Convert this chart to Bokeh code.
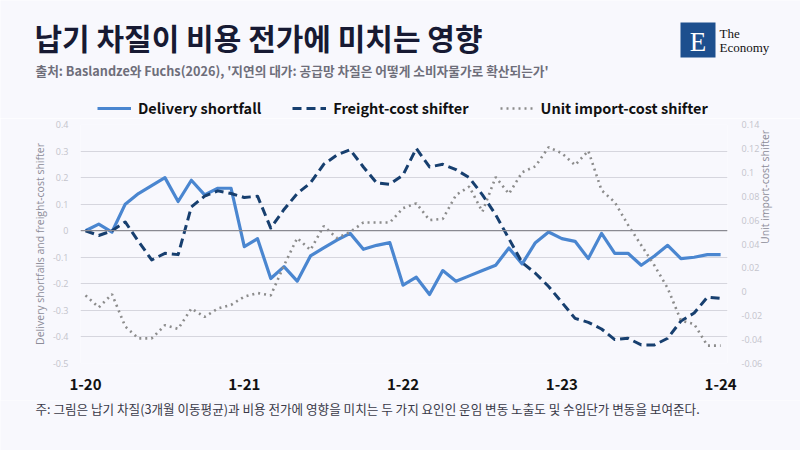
from bokeh.plotting import figure
from bokeh.layouts import column
from bokeh.models import (Range1d, LinearAxis, FixedTicker, Label, Span,
                          Legend, LegendItem, BoxAnnotation)
from bokeh.embed import file_html
from bokeh.resources import INLINE
from math import pi

# monthly values, Jan 2020 .. Jan 2024
delivery = [0.0, 0.025, -0.005, 0.10, 0.14, 0.17, 0.20, 0.11, 0.19, 0.135,
            0.16, 0.16, -0.06, -0.03, -0.18, -0.135, -0.19, -0.095, -0.065, -0.035,
            -0.01, -0.07, -0.055, -0.045, -0.205, -0.175, -0.24, -0.15, -0.19, -0.17,
            -0.15, -0.13, -0.065, -0.125, -0.045, -0.005, -0.03, -0.04, -0.105, -0.01,
            -0.085, -0.085, -0.13, -0.095, -0.055, -0.105, -0.10, -0.09, -0.09]
freight = [0.0, -0.018, 0.0, 0.033, -0.04, -0.11, -0.085, -0.09, 0.09, 0.13,
           0.15, 0.14, 0.125, 0.13, 0.01, 0.08, 0.14, 0.18, 0.25, 0.285,
           0.305, 0.24, 0.18, 0.175, 0.21, 0.31, 0.24, 0.25, 0.23, 0.20,
           0.135, 0.06, -0.03, -0.12, -0.16, -0.21, -0.27, -0.33, -0.345, -0.37,
           -0.41, -0.405, -0.43, -0.43, -0.405, -0.34, -0.31, -0.25, -0.255]
unit_import = [-0.003, -0.013, -0.002, -0.029, -0.039, -0.039, -0.028, -0.031, -0.014, -0.021,
               -0.014, -0.011, -0.004, -0.001, -0.003, 0.022, 0.045, 0.035, 0.055, 0.045,
               0.05, 0.058, 0.058, 0.058, 0.07, 0.074, 0.06, 0.061, 0.081, 0.088,
               0.067, 0.096, 0.082, 0.10, 0.105, 0.121, 0.116, 0.106, 0.118, 0.085,
               0.075, 0.056, 0.039, 0.022, 0.003, -0.024, -0.027, -0.045, -0.045]
months = list(range(len(delivery)))

x_ticks = [0, 12, 24, 36, 48]
x_labels = ["1-20", "1-21", "1-22", "1-23", "1-24"]
left_ticks = [-0.5, -0.4, -0.3, -0.2, -0.1, 0, 0.1, 0.2, 0.3, 0.4]
left_labels = ["-0.5", "-0.4", "-0.3", "-0.2", "-0.1", "0", "0.1", "0.2", "0.3", "0.4"]
right_ticks = [-0.06, -0.04, -0.02, 0, 0.02, 0.04, 0.06, 0.08, 0.1, 0.12, 0.14]
right_labels = ["-0.06", "-0.04", "-0.02", "0", "0.02", "0.04", "0.06", "0.08", "0.1", "0.12", "0.14"]

BG = "#F8F8FD"
KR = "Noto Sans CJK KR"
DEL_COLOR, FR_COLOR, UI_COLOR = "#4A86D0", "#173F6F", "#8C8C8C"


def blank(height):
    # ranges far from the data: series drawn here only feed the legend
    f = figure(width=800, height=height, output_backend="svg", toolbar_location=None,
               x_range=Range1d(100, 101), y_range=Range1d(100, 101),
               x_axis_location=None, y_axis_location=None, min_border=0,
               frame_align=False)
    f.background_fill_color = BG
    f.border_fill_color = BG
    f.outline_line_color = None
    f.grid.grid_line_color = None
    return f


def add_text(f, x, y, text, size, color, style="normal", font=KR):
    f.add_layout(Label(x=x, y=y, x_units="screen", y_units="screen", text=text,
                       text_font=font, text_font_size=size, text_color=color,
                       text_font_style=style, text_baseline="middle"))


# header: title, source, logo, legend
head = blank(118)
add_text(head, 34, 82, "납기 차질이 비용 전가에 미치는 영향", "30px", "#171A33", "bold")
add_text(head, 35, 48, "출처: Baslandze와 Fuchs(2026), '지연의 대가: 공급망 차질은 어떻게 소비자물가로 확산되는가'",
         "12.7px", "#6E6E7A", "bold")
head.add_layout(BoxAnnotation(left=680, right=715, top=96, bottom=61,
                              left_units="screen", right_units="screen",
                              top_units="screen", bottom_units="screen",
                              fill_color="#1D4F8E", fill_alpha=1, line_color=None))
head.add_layout(Label(x=697.5, y=77, x_units="screen", y_units="screen", text="E",
                      text_font="Liberation Serif", text_font_size="27px", text_color="white",
                      text_align="center", text_baseline="middle"))
add_text(head, 719, 85, "The", "13px", "#111111", font="Liberation Serif")
add_text(head, 719, 71, "Economy", "13px", "#111111", font="Liberation Serif")

h_del = head.line(months, delivery, line_color=DEL_COLOR, line_width=3.2)
h_fr = head.line(months, freight, line_color=FR_COLOR, line_width=3, line_dash="9 5")
h_ui = head.line(months, unit_import, line_color=UI_COLOR, line_width=2.6, line_dash="2 4")
legend = Legend(items=[LegendItem(label="Delivery shortfall", renderers=[h_del]),
                       LegendItem(label="Freight-cost shifter", renderers=[h_fr]),
                       LegendItem(label="Unit import-cost shifter", renderers=[h_ui])],
                orientation="horizontal", location=(97, 0),
                glyph_width=34, glyph_height=20, label_height=20, label_standoff=7,
                spacing=31, padding=0, margin=0,
                border_line_color=None, background_fill_alpha=0,
                label_text_font=KR, label_text_font_style="bold",
                label_text_font_size="14.5px", label_text_color="#111111")
head.add_layout(legend)

# main chart
p = figure(width=800, height=282, output_backend="svg", toolbar_location=None,
           x_range=Range1d(-0.38, 48.52), y_range=Range1d(-0.5, 0.4),
           min_border_left=80, min_border_right=73, min_border_top=6, min_border_bottom=37,
           frame_align=False)
p.background_fill_color = BG
p.border_fill_color = BG
p.outline_line_color = None
p.extra_y_ranges = {"right": Range1d(-0.06, 0.14)}

p.xaxis.ticker = FixedTicker(ticks=x_ticks)
p.xaxis.major_label_overrides = dict(zip(x_ticks, x_labels))
p.xaxis.axis_line_color = None
p.xaxis.major_tick_line_color = None
p.xaxis.minor_tick_line_color = None
p.xaxis.major_label_standoff = 9
p.xaxis.major_label_text_font = KR
p.xaxis.major_label_text_font_style = "bold"
p.xaxis.major_label_text_font_size = "15px"
p.xaxis.major_label_text_color = "#111111"

p.yaxis.ticker = FixedTicker(ticks=left_ticks)
p.yaxis.major_label_overrides = dict(zip(left_ticks, left_labels))
p.yaxis.axis_label = "Delivery shortfalls and freight-cost shifter"
p.yaxis.axis_label_standoff = 3
p.yaxis.major_label_standoff = 6

right = LinearAxis(y_range_name="right", ticker=FixedTicker(ticks=right_ticks))
right.major_label_overrides = dict(zip(right_ticks, right_labels))
right.axis_label = "Unit import-cost shifter"
right.axis_label_standoff = 0
right.axis_label_orientation = pi / 2
right.major_label_standoff = 8
p.add_layout(right, "right")

for ax in (p.yaxis[0], right):
    ax.axis_line_color = None
    ax.major_tick_line_color = None
    ax.minor_tick_line_color = None
    ax.major_label_text_font = "Open Sans"
    ax.major_label_text_font_size = "9px"
    ax.major_label_text_color = "#C4C4CC"
    ax.axis_label_text_font = "Open Sans"
    ax.axis_label_text_font_size = "10.5px"
    ax.axis_label_text_font_style = "normal"
    ax.axis_label_text_color = "#8C8C98"

p.xgrid.grid_line_color = None
p.ygrid.ticker = FixedTicker(ticks=left_ticks)
p.ygrid.grid_line_color = "#D6D6DE"
p.ygrid.grid_line_width = 1
p.add_layout(Span(location=0, dimension="width", line_color="#8A8A92", line_width=1.2))

p.line(months, delivery, line_color=DEL_COLOR, line_width=3.2, line_join="round")
p.line(months, freight, line_color=FR_COLOR, line_width=3, line_dash="9 5", line_join="round")
p.line(months, unit_import, y_range_name="right", line_color=UI_COLOR,
       line_width=2.6, line_dash="2 4")

# footer note
foot = blank(50)
add_text(foot, 35, 42, "주: 그림은 납기 차질(3개월 이동평균)과 비용 전가에 영향을 미치는 두 가지 요인인 운임 변동 노출도 및 수입단가 변동을 보여준다.",
         "12.6px", "#3A3A48")

layout = column(head, p, foot, spacing=0)
open("out.html", "w").write(file_html(layout, INLINE))
